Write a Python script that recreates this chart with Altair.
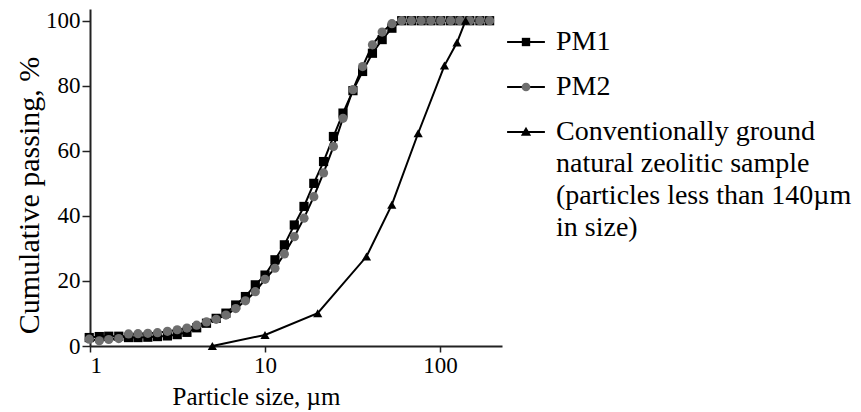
import altair as alt
import pandas as pd

# ---- data ----
sizes_pm = [0.99, 1.13, 1.28, 1.46, 1.66, 1.88, 2.14, 2.43, 2.77, 3.15,
            3.58, 4.07, 4.63, 5.26, 5.98, 6.8, 7.73, 8.8, 10.0, 11.4,
            12.9, 14.7, 16.7, 19.0, 21.6, 24.6, 27.9, 31.8, 36.1, 41.1,
            46.7, 53.1, 60.4, 68.6, 78.0, 88.7, 101, 115, 130, 148, 169, 192]
pm1 = [2.6, 2.9, 3.0, 3.0, 2.6, 2.6, 2.7, 2.9, 3.1, 3.5,
       4.2, 5.6, 7.0, 8.5, 10.1, 12.6, 15.2, 18.8, 21.8, 26.5,
       31.1, 37.2, 42.9, 50.0, 56.7, 64.4, 71.6, 78.5, 84.4, 90.0,
       94.2, 97.7, 100, 100, 100, 100, 100, 100, 100, 100, 100, 100]
pm2 = [2.1, 1.6, 2.0, 2.3, 3.7, 3.8, 3.9, 4.1, 4.5, 5.0,
       5.5, 6.4, 7.4, 8.2, 9.5, 11.5, 13.9, 16.7, 20.5, 23.9,
       28.3, 33.6, 39.3, 45.9, 53.2, 61.3, 70.0, 78.8, 85.9, 92.6,
       96.5, 99.1, 100, 100, 100, 100, 100, 100, 100, 100, 100, 100]
sizes_conv = [5, 10, 20, 38, 53, 75, 106, 125, 140]
conv = [0, 3.4, 10.1, 27.5, 43.4, 65.4, 86.2, 93.3, 100]

series_names = ["PM1", "PM2",
                "Conventionally ground|natural zeolitic sample|(particles less than 140\u00b5m|in size)"]
shapes = ["square", "circle", "triangle-up"]
fills = ["#000000", "#6e6e6e", "#000000"]
# legend glyphs (unit paths; the invisible moves give every entry the same height)
legend_marker_paths = [
    "M-0.22,-0.22H0.22V0.22H-0.22ZM0,-1M0,1",
    "M0.23,0A0.23,0.23,0,1,1,-0.23,0A0.23,0.23,0,1,1,0.23,0ZM0,-1M0,1",
    "M0,-0.27L0.27,0.2L-0.27,0.2ZM0,-1M0,1",
]
legend_line_path = "M-1.05,0H1.05M0,-0.833M0,0.833"

x_ticks = [1, 10, 100]
y_ticks = [0, 20, 40, 60, 80, 100]

rows = []
for s, v in zip(sizes_pm, pm1):
    rows.append({"size": s, "value": v, "series": series_names[0]})
for s, v in zip(sizes_pm, pm2):
    rows.append({"size": s, "value": v, "series": series_names[1]})
for s, v in zip(sizes_conv, conv):
    rows.append({"size": s, "value": v, "series": series_names[2]})
df = pd.DataFrame(rows)

FONT = "Liberation Serif"

x_enc = alt.X("size:Q",
              scale=alt.Scale(type="log", domain=[1, 226], nice=False),
              axis=alt.Axis(values=x_ticks, format="~g", title="Particle size, \u00b5m",
                            titleX=166, titleY=58, titleBaseline="alphabetic",
                            titleAlign="center"))
y_enc = alt.Y("value:Q",
              scale=alt.Scale(domain=[0, 103.6], nice=False),
              axis=alt.Axis(values=y_ticks, title="Cumulative passing, %",
                            titleX=-52, titleY=186, titleAngle=270,
                            titleBaseline="alphabetic", titleAlign="center",
                            tickSize=8, labelPadding=2))

legend_common = dict(orient="none", legendX=417, legendY=14, title=None, padding=0,
                     labelFont=FONT, labelFontSize=28, labelColor="#000000",
                     labelLimit=0, rowPadding=7, labelOffset=11, symbolOpacity=1)

lines = alt.Chart(df).mark_line(strokeWidth=2).encode(
    x=x_enc, y=y_enc,
    color=alt.Color("series:N",
                    scale=alt.Scale(domain=series_names, range=["#000000"] * 3),
                    legend=alt.Legend(symbolType=legend_line_path, symbolStrokeWidth=2,
                                      symbolSize=1296,
                                      labelExpr="split(replace(datum.label, /[^|]/g, ' '), '|')",
                                      **legend_common)),
    order="size:Q",
)

points = alt.Chart(df).mark_point(filled=True, size=85, opacity=1, strokeWidth=0).encode(
    x=x_enc, y=y_enc,
    shape=alt.Shape("series:N", scale=alt.Scale(domain=series_names, range=shapes),
                    legend=None),
    fill=alt.Fill("series:N", scale=alt.Scale(domain=series_names, range=fills),
                  legend=None),
)

marker_legend = dict(symbolStrokeWidth=0, symbolSize=1444,
                     labelExpr="split(datum.label, '|')", **legend_common)
legend_layer = alt.Chart(df).transform_filter("datum.value < 0").mark_point(
    filled=True, strokeWidth=0, opacity=1).encode(
    x=x_enc, y=y_enc,
    shape=alt.Shape("series:N", scale=alt.Scale(domain=series_names, range=legend_marker_paths),
                    legend=alt.Legend(**marker_legend)),
    fill=alt.Fill("series:N", scale=alt.Scale(domain=series_names, range=fills),
                  legend=alt.Legend(**marker_legend)),
)

chart = alt.layer(lines, points, legend_layer).resolve_scale(
    color="independent", shape="independent", fill="independent"
).properties(
    width=412, height=337,
    autosize=alt.AutoSizeParams(type="none"),
    padding={"left": 90, "top": 9, "right": 359, "bottom": 66},
    background="#ffffff",
).configure(
    style={"guide-label": {"lineHeight": 32}}
).configure_view(stroke=None).configure_axis(
    grid=False,
    domainColor="#222222", domainWidth=2,
    tickColor="#222222", tickWidth=1.5, tickSize=6,
    labelFont=FONT, labelFontSize=23, labelColor="#000000", labelPadding=2,
    titleFont=FONT, titleFontSize=25, titleColor="#000000", titleFontWeight="normal",
).configure_axisY(titleFontSize=30)

chart.save("out.html", embed_options={"renderer": "svg", "actions": False})
